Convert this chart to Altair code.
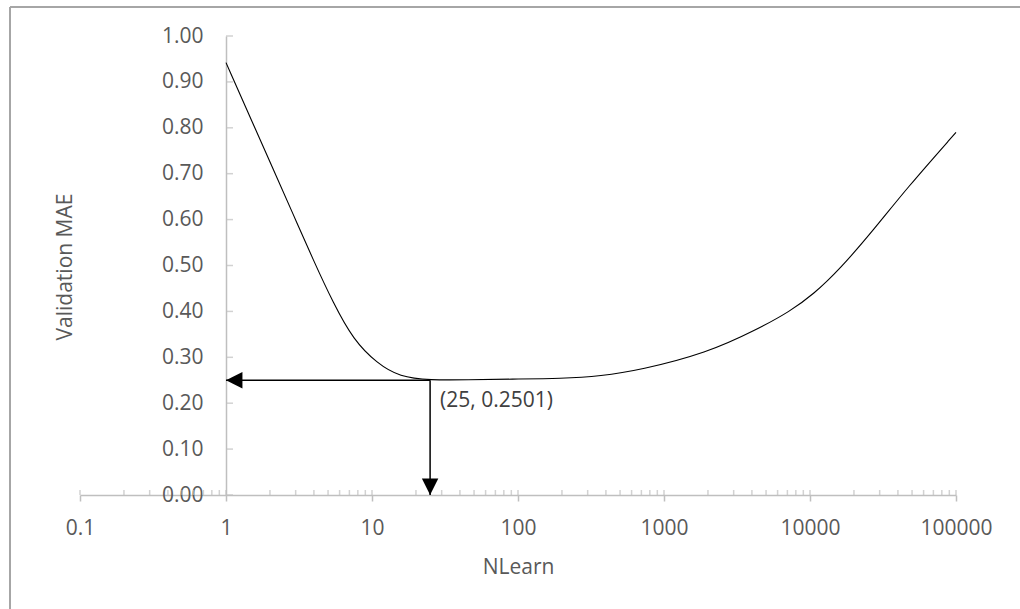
import altair as alt
import pandas as pd

# Validation error against NLearn (log scale)
nlearn = [1, 1.54, 2.11, 2.89, 3.96, 5.43, 7.45, 10.8, 15.5, 25, 45, 90, 200,
          370, 685, 1960, 4310, 7290, 10540, 16000, 27200, 45900, 100000]
mae = [0.942, 0.807, 0.709, 0.611, 0.512, 0.418, 0.338, 0.287, 0.257, 0.2501,
       0.251, 0.2525, 0.2535, 0.259, 0.272, 0.309, 0.360, 0.400, 0.437, 0.492,
       0.577, 0.668, 0.790]

# Best point, marked with arrows to both axes
best_n = 25
best_mae = 0.2501
best_label = "(25, 0.2501)"

x_ticks = [0.1, 1, 10, 100, 1000, 10000, 100000]
y_ticks = [0.0, 0.1, 0.2, 0.3, 0.4, 0.5, 0.6, 0.7, 0.8, 0.9, 1.0]
x_minor = [m * d for d in [0.1, 1, 10, 100, 1000, 10000] for m in range(1, 10)] + [100000]

FONT = "Open Sans"
AXIS_GRAY = "#bfbfbf"
TEXT_GRAY = "#595959"

W, H = 876, 459

xs = alt.Scale(type="log", domain=[0.1, 100000], nice=False)
ys = alt.Scale(domain=[0, 1], nice=False, zero=False)

curve_df = pd.DataFrame({"NLearn": nlearn, "MAE": mae})

x_axis = alt.Axis(
    values=x_ticks, format="~g", grid=False, labelFlush=False, labelOverlap=False,
    labelFont=FONT, labelFontSize=21, labelColor=TEXT_GRAY, labelPadding=16,
    domainColor=AXIS_GRAY, domainWidth=1.5, tickColor=AXIS_GRAY, tickWidth=1.5,
    tickSize=6, title="NLearn", titleFont=FONT, titleFontSize=21,
    titleFontWeight="normal", titleColor=TEXT_GRAY, titleX=W / 2, titleY=78,
    titleBaseline="alphabetic", titleAlign="center",
)
y_axis = alt.Axis(
    values=y_ticks, format=".2f", grid=False, ticks=False, offset=-146,
    labelFont=FONT, labelFontSize=21, labelColor=TEXT_GRAY, labelPadding=23,
    domainColor=AXIS_GRAY, domainWidth=1.5, title="Validation MAE",
    titleFont=FONT, titleFontSize=21, titleFontWeight="normal",
    titleColor=TEXT_GRAY, titleAngle=-90, titleX=-155, titleY=H / 2 + 1,
    titleBaseline="alphabetic", titleAlign="center",
)

curve = alt.Chart(curve_df).mark_line(
    color="black", strokeWidth=1.1, interpolate="basis"
).encode(
    x=alt.X("NLearn:Q", scale=xs, axis=x_axis),
    y=alt.Y("MAE:Q", scale=ys, axis=y_axis),
)

# minor/major tick marks on the inner side of the NLearn axis
x_tick_marks = alt.Chart(pd.DataFrame({"t": x_minor})).mark_tick(
    orient="vertical", size=5, thickness=1.5, yOffset=-2.5, color=AXIS_GRAY
).encode(x=alt.X("t:Q", scale=xs), y=alt.datum(0))

# value-axis ticks on the right side of the axis line
y_tick_marks = alt.Chart(pd.DataFrame({"t": y_ticks})).mark_tick(
    orient="horizontal", size=7, thickness=1.5, xOffset=3.5, color=AXIS_GRAY
).encode(x=alt.datum(1), y=alt.Y("t:Q", scale=ys))

best_df = pd.DataFrame({"n": [best_n], "v": [best_mae], "label": [best_label]})

h_arrow = alt.Chart(best_df).mark_rule(color="black", strokeWidth=1.5).encode(
    x=alt.X("n:Q", scale=xs), x2=alt.datum(1), y=alt.Y("v:Q", scale=ys)
)
v_arrow = alt.Chart(best_df).mark_rule(color="black", strokeWidth=1.5).encode(
    x=alt.X("n:Q", scale=xs), y=alt.Y("v:Q", scale=ys), y2=alt.datum(0)
)

heads_df = pd.DataFrame({
    "n": [1, best_n],
    "v": [best_mae, 0],
    "shape": ["M0,0L2,-1L2,1Z", "M0,0L-1,-2L1,-2Z"],
})
heads = alt.Chart(heads_df).mark_point(
    filled=True, size=270, color="black", opacity=1
).encode(
    x=alt.X("n:Q", scale=xs), y=alt.Y("v:Q", scale=ys),
    shape=alt.Shape("shape:N", scale=None),
)

label = alt.Chart(best_df).mark_text(
    align="left", baseline="alphabetic", dx=10, dy=27,
    font=FONT, fontSize=21, color="#404040"
).encode(x=alt.X("n:Q", scale=xs), y=alt.Y("v:Q", scale=ys), text="label:N")

# chart-area frame
frame_top = alt.Chart(best_df).mark_rule(color="#a6a6a6", strokeWidth=2).encode(
    x=alt.value(-70), x2=alt.value(1000), y=alt.value(-29)
)
frame_left = alt.Chart(best_df).mark_rule(color="#a6a6a6", strokeWidth=2).encode(
    x=alt.value(-70), y=alt.value(-29), y2=alt.value(600)
)

chart = alt.layer(
    frame_top, frame_left, x_tick_marks, y_tick_marks, curve,
    h_arrow, v_arrow, heads, label,
).properties(
    width=W, height=H,
    autosize=alt.AutoSizeParams(type="none"),
    padding={"left": 80, "top": 36, "right": 64, "bottom": 114},
    background="white",
).configure_view(stroke=None)

chart.save("out.html", embed_options={"renderer": "svg", "actions": False})
